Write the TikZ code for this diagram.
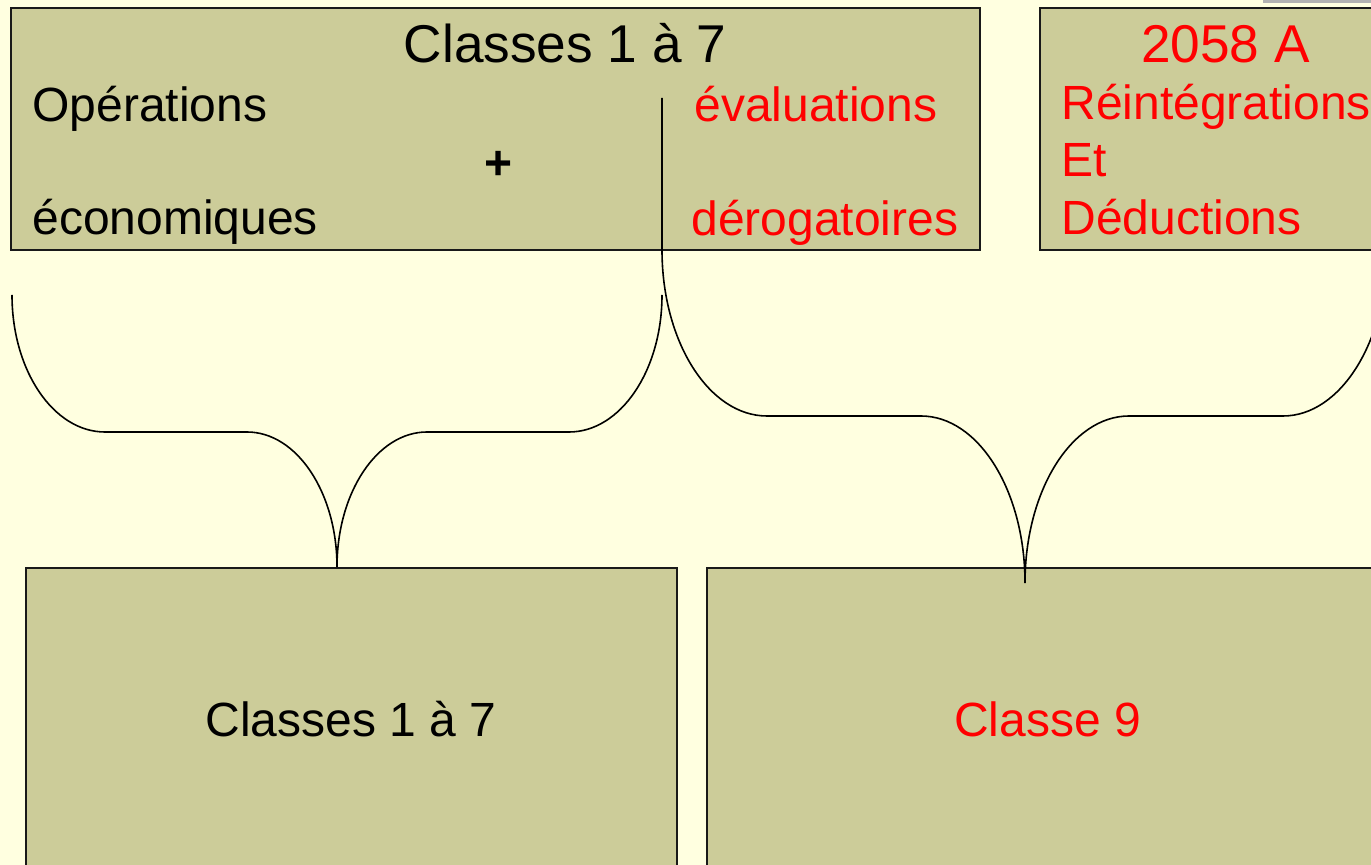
\documentclass[tikz,border=0pt]{standalone}
\usepackage{fontspec}
\setmainfont{Liberation Sans}
\definecolor{bgyellow}{RGB}{255,255,224}
\definecolor{boxfill}{RGB}{204,204,153}
\definecolor{barGrey}{RGB}{178,178,178}
\definecolor{txtred}{RGB}{255,0,0}
\tikzset{
  panel/.style={draw=black!90, line width=0.75pt, fill=boxfill, inner sep=0pt, rectangle},
  bracepath/.style={draw=black, line width=0.8pt},
  txt/.style={inner sep=0pt, font=\fontsize{24pt}{28pt}\selectfont},
  bigtxt/.style={inner sep=0pt, font=\fontsize{26.6pt}{32pt}\selectfont},
  redtxt/.style={text=txtred}
}
\begin{document}
\begin{tikzpicture}[x=0.5pt,y=-0.5pt]
\useasboundingbox (0,0) rectangle (1371,865);
\fill[bgyellow] (0,0) rectangle (1371,865);
\fill[barGrey] (1263,0) rectangle (1371,3);
% boxes
\node[panel, minimum width=484.5pt, minimum height=121pt] (b1) at (495.5,129) {};
\node[panel, minimum width=175pt, minimum height=121pt] (b2) at (1215,129) {};
\node[panel, minimum width=325.5pt, minimum height=156pt] (b3) at (351.5,724) {};
\node[panel, minimum width=341.5pt, minimum height=156pt] (b4) at (1048.5,724) {};
% texts box 1
\node[bigtxt, anchor=base] (t1) at (565,63) {Classes 1 à 7};
\node[txt, anchor=base west] (t2) at (32,122) {Opérations};
\node[txt, anchor=center] (t3) at (499,165) {\textbf{+}};
\node[txt, anchor=base west] (t4) at (32,235) {économiques};
\node[txt, redtxt, anchor=base west] (t5) at (694,122) {évaluations};
\node[txt, redtxt, anchor=base west] (t6) at (691,236) {dérogatoires};
% texts box 2
\node[bigtxt, redtxt, anchor=base] (t7) at (1225.5,63) {2058 A};
\node[txt, redtxt, anchor=base west] (t8) at (1061,120) {Réintégrations};
\node[txt, redtxt, anchor=base west] (t9) at (1061,177) {Et};
\node[txt, redtxt, anchor=base west] (t10) at (1061,235) {Déductions};
% texts bottom
\node[txt, anchor=base] (t11) at (351,736) {Classes 1 à 7};
\node[txt, redtxt, anchor=base] (t12) at (1047.5,736) {Classe 9};
% brace coordinates
\coordinate (lA) at (12,295);
\coordinate (lTip) at (337,567);
\coordinate (lF) at (662,295);
\coordinate (rTop) at (662,98);
\coordinate (rA) at (662,250);
\coordinate (rTip) at (1025,583);
\coordinate (rF) at (1387,250);
% left brace
\draw[bracepath] (lA) .. controls (12,370.7) and (53.6,432) .. (105,432)
  -- (247,432) .. controls (296.7,432) and (337,492.4) .. (lTip)
  .. controls (337,492.4) and (377.3,432) .. (427,432)
  -- (569,432) .. controls (620.4,432) and (662,370.7) .. (lF);
% right brace
\draw[bracepath] (rTop) -- (rA) .. controls (662,341.7) and (709,416) .. (767,416)
  -- (921,416) .. controls (978.4,416) and (1025,490.8) .. (rTip)
  .. controls (1025,490.8) and (1071.6,416) .. (1129,416)
  -- (1283,416) .. controls (1340.4,416) and (1387,341.7) .. (rF);
\end{tikzpicture}
\end{document}
